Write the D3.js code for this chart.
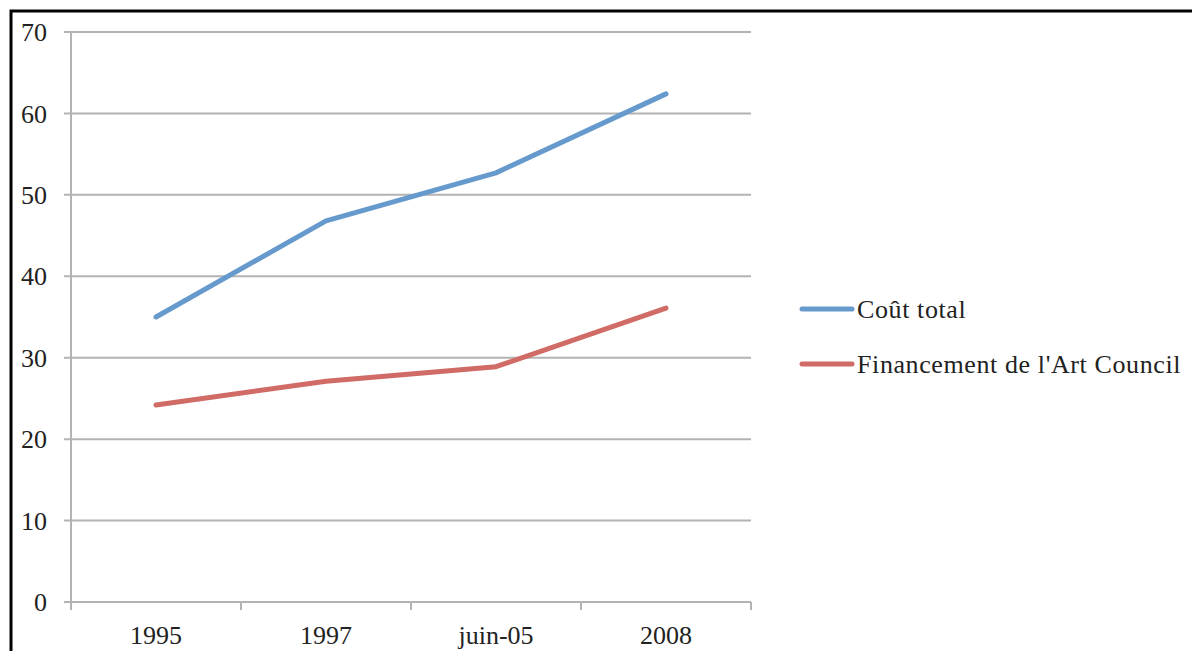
<!DOCTYPE html>
<html>
<head>
<meta charset="utf-8">
<script src="https://cdn.jsdelivr.net/npm/d3@7"></script>
<style>
  body { margin: 0; background: #fff; }
  text { font-family: "Liberation Serif", "DejaVu Serif", serif; fill: #222; }
</style>
</head>
<body>
<svg id="chart" width="1192" height="651"></svg>
<script>
var categories = ["1995", "1997", "juin-05", "2008"];
var coutTotal = [35, 46.8, 52.7, 62.4];
var financement = [24.2, 27.1, 28.9, 36.1];
var yTicks = [0, 10, 20, 30, 40, 50, 60, 70];
var seriesNames = ["Coût total", "Financement de l'Art Council"];
var seriesColors = ["#6699cc", "#d06b66"];

var svg = d3.select("#chart");

// frame (only top and left edges are visible in the picture)
svg.append("rect")
    .attr("x", 11).attr("y", 11)
    .attr("width", 1300).attr("height", 800)
    .attr("fill", "none")
    .attr("stroke", "#000")
    .attr("stroke-width", 3);

var x = d3.scaleBand()
    .domain(categories)
    .range([71, 751])
    .padding(0);

var y = d3.scaleLinear()
    .domain([0, 70])
    .range([602, 32]);

// horizontal grid
svg.append("g")
  .selectAll("line")
  .data(yTicks)
  .enter().append("line")
    .attr("x1", 64)
    .attr("x2", 751)
    .attr("y1", d => y(d))
    .attr("y2", d => y(d))
    .attr("stroke", "#b3b3b3")
    .attr("stroke-width", 2);

// y axis line
svg.append("line")
    .attr("x1", 71).attr("x2", 71)
    .attr("y1", y(70)).attr("y2", y(0))
    .attr("stroke", "#b3b3b3")
    .attr("stroke-width", 2);

// x axis ticks at band edges
var edges = categories.map(c => x(c)).concat([x.range()[1]]);
svg.append("g")
  .selectAll("line")
  .data(edges)
  .enter().append("line")
    .attr("x1", d => d).attr("x2", d => d)
    .attr("y1", y(0)).attr("y2", y(0) + 8)
    .attr("stroke", "#b3b3b3")
    .attr("stroke-width", 2);

// y tick labels
svg.append("g")
  .selectAll("text")
  .data(yTicks)
  .enter().append("text")
    .attr("x", 47)
    .attr("y", d => y(d))
    .attr("dy", "0.35em")
    .attr("text-anchor", "end")
    .style("font-size", "26px")
    .text(d => d);

// x tick labels
svg.append("g")
  .selectAll("text")
  .data(categories)
  .enter().append("text")
    .attr("x", d => x(d) + x.bandwidth() / 2)
    .attr("y", 644)
    .attr("text-anchor", "middle")
    .style("font-size", "26px")
    .text(d => d);

var line = d3.line()
    .x((d, i) => x(categories[i]) + x.bandwidth() / 2)
    .y(d => y(d));

[coutTotal, financement].forEach(function(s, i) {
  svg.append("path")
      .datum(s)
      .attr("d", line)
      .attr("fill", "none")
      .attr("stroke", seriesColors[i])
      .attr("stroke-width", 5)
      .attr("stroke-linecap", "round")
      .attr("stroke-linejoin", "round");
});

// legend
var legend = svg.append("g")
  .selectAll("g")
  .data(seriesNames)
  .enter().append("g")
    .attr("transform", (d, i) => "translate(802," + (309 + i * 55) + ")");

legend.append("line")
    .attr("x1", 0).attr("x2", 50)
    .attr("stroke", (d, i) => seriesColors[i])
    .attr("stroke-width", 5)
    .attr("stroke-linecap", "round");

legend.append("text")
    .attr("x", 55)
    .attr("dy", "0.35em")
    .style("font-size", "26px")
    .style("letter-spacing", "0.6px")
    .text(d => d);
</script>
</body>
</html>
